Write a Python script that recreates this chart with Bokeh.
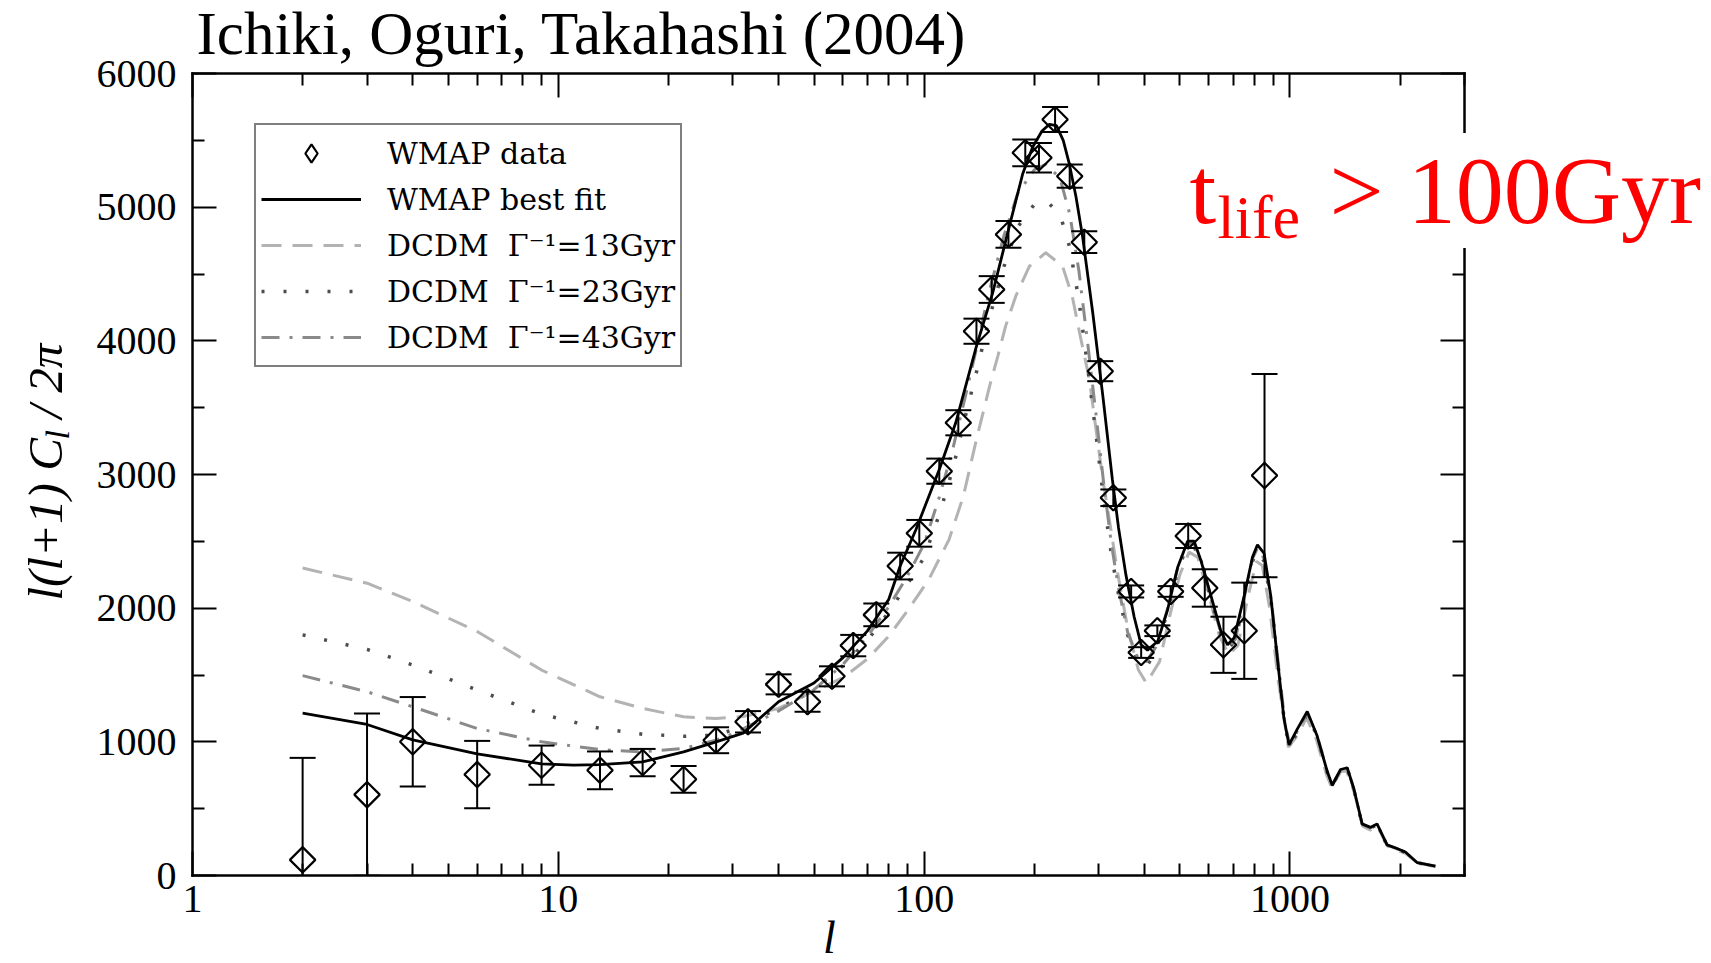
import math
from math import pi
from bokeh.plotting import figure
from bokeh.core.properties import value
from bokeh.models import (Range1d, LogAxis, LinearAxis, Legend, LegendItem, Text,
                          ColumnDataSource, FixedTicker, CustomJSTickFormatter)
from bokeh.embed import file_html
from bokeh.resources import INLINE

# ---------------- data ----------------
ell_data = [2, 3, 4, 6, 9, 13, 17, 22, 27, 33, 40, 48, 56, 64, 74, 86, 97, 110, 124, 139,
            153, 170, 189, 206, 228, 250, 274, 303, 329, 368, 392, 434, 472, 527, 585, 658, 750, 852]
cl_data = [117, 605, 1000, 755, 825, 787, 845, 720, 1012, 1150, 1430, 1300, 1490, 1720, 1950, 2315, 2560, 3025, 3387, 4072,
           4384, 4796, 5407, 5370, 5656, 5232, 4738, 3773, 2826, 2125, 1668, 1831, 2125, 2540, 2151, 1726, 1831, 2992]
cl_err = [763, 607, 335, 252, 147, 141, 102, 100, 97, 80, 75, 75, 75, 80, 85, 100, 100, 94, 94, 94,
          100, 100, 100, 110, 94, 87, 81, 75, 62, 45, 40, 40, 40, 90, 140, 210, 360, 760]

ell_fit = [2, 3, 4, 6, 9, 11, 13, 17, 22, 27, 32, 40, 50, 60, 70, 80, 86, 95, 110, 122,
           139, 154, 171, 186, 198, 210, 220, 230, 240, 249, 260, 271, 289, 308, 327, 340, 356, 375, 392, 408, 435,
           463, 493, 525, 547, 571, 608, 647, 675, 704, 750, 790, 815, 850, 886, 924, 963, 994, 1047, 1115, 1187,
           1264, 1305, 1375, 1434, 1495, 1575, 1660, 1730, 1843, 1962, 2068, 2225, 2497]
cl_fit = [1215, 1130, 1015, 910, 835, 825, 830, 850, 925, 1000, 1065, 1300, 1440, 1630, 1830, 2065, 2315, 2589, 3038, 3387,
          3960, 4360, 4858, 5250, 5450, 5570, 5620, 5610, 5500, 5332, 5080, 4783, 4210, 3586, 2963, 2600, 2251, 1936, 1726, 1686, 1752,
          1989, 2304, 2501, 2501, 2356, 2094, 1831, 1726, 1778, 2094, 2382, 2474, 2409, 2094, 1621, 1174, 977, 1095, 1227, 1043,
          780, 675, 793, 806, 649, 386, 360, 386, 229, 202, 176, 97, 71]

ell_13 = [2, 3, 4, 6, 9, 13, 17, 22, 27, 32, 40, 50, 60, 70, 80, 90, 103, 117, 128, 139,
          151, 159, 167, 178, 194, 215, 239, 254, 266, 283, 295, 308, 324, 338, 360, 385, 405, 440, 470, 500,
          530, 560, 600, 640, 680, 720, 770, 810, 840, 880, 930, 990, 1050, 1110, 1180, 1260, 1300, 1380, 1430, 1500,
          1580, 1660, 1730, 1850, 1960, 2070, 2230, 2500]
cl_13 = [2300, 2187, 2050, 1825, 1537, 1337, 1250, 1187, 1175, 1190, 1250, 1380, 1480, 1620, 1790, 1980, 2215, 2514, 2838, 3263,
         3661, 3886, 4110, 4334, 4558, 4659, 4558, 4334, 4060, 3711, 3337, 2963, 2589, 2265, 1850, 1540, 1440, 1600, 1950, 2250,
         2420, 2380, 2100, 1800, 1650, 1720, 2100, 2350, 2320, 2000, 1450, 960, 1050, 1180, 1020, 750, 660, 780, 780, 620,
         370, 340, 370, 220, 190, 165, 95, 65]

ell_23 = [2, 3, 4, 6, 9, 13, 17, 22, 27, 30, 40, 50, 60, 70, 80, 90, 100, 110, 120, 130,
          140, 150, 165, 180, 200, 215, 235, 250, 265, 280, 295, 310, 325, 340, 360, 385, 405, 430, 460, 490,
          520, 545, 575, 610, 650, 680, 710, 750, 790, 815, 850, 890, 930, 970, 1000, 1050, 1115, 1190, 1265, 1305,
          1375, 1435, 1495, 1575, 1660, 1730, 1843, 1962, 2068, 2225, 2500]
cl_23 = [1800, 1692, 1575, 1387, 1207, 1100, 1057, 1042, 1050, 1090, 1250, 1390, 1570, 1760, 1970, 2180, 2380, 2700, 3050, 3450,
         3800, 4150, 4550, 4850, 5020, 5050, 4950, 4700, 4300, 3800, 3300, 2800, 2400, 2100, 1800, 1590, 1560, 1680, 1950, 2250,
         2450, 2470, 2330, 2050, 1790, 1700, 1760, 2070, 2350, 2430, 2350, 2030, 1550, 1100, 970, 1080, 1210, 1030, 770, 670,
         790, 800, 640, 380, 355, 380, 225, 198, 172, 95, 70]

ell_43 = ell_23
cl_43 = [1495, 1375, 1262, 1100, 1000, 942, 925, 950, 1012, 1060, 1230, 1390, 1580, 1790, 2010, 2240, 2480, 2830, 3200, 3600,
         3980, 4350, 4780, 5100, 5280, 5320, 5220, 4950, 4520, 3980, 3450, 2920, 2480, 2150, 1820, 1620, 1600, 1710, 1970, 2270,
         2470, 2490, 2340, 2060, 1800, 1710, 1770, 2080, 2370, 2450, 2370, 2050, 1580, 1130, 975, 1085, 1215, 1035, 775, 672,
         792, 803, 645, 383, 357, 383, 227, 200, 174, 96, 70]

x_major = [1, 10, 100, 1000]
x_tick_labels = ["1", "10", "100", "1000"]
y_major = [0, 1000, 2000, 3000, 4000, 5000, 6000]
y_tick_labels = ["0", "1000", "2000", "3000", "4000", "5000", "6000"]
x_minor = [m * 10 ** e for e in range(4) for m in range(2, 10) if m * 10 ** e <= 3000]
y_minor = [v + 500 for v in y_major[:-1]]

legend_labels = ["WMAP data", "WMAP best fit", "DCDM  \u0393\u207b\u00b9=13Gyr",
                 "DCDM  \u0393\u207b\u00b9=23Gyr", "DCDM  \u0393\u207b\u00b9=43Gyr"]

# ---------------- layout ----------------
W, H = 1711, 963
FL, FR, FT, FB = 192, 1464, 73, 875
XMIN, XMAX, YMIN, YMAX = 1, 3000, 0, 6000

p = figure(width=W, height=H, x_axis_type="log",
           x_range=Range1d(XMIN, XMAX), y_range=Range1d(YMIN, YMAX),
           output_backend="svg", toolbar_location=None,
           min_border_left=FL, min_border_right=W - FR,
           min_border_top=FT, min_border_bottom=H - FB,
           background_fill_color="white", border_fill_color="white")
p.outline_line_color = None
p.grid.visible = False

xt = FixedTicker(ticks=x_major, minor_ticks=x_minor)
yt = FixedTicker(ticks=y_major, minor_ticks=y_minor)

def style_axis(ax):
    ax.axis_line_color = "black"
    ax.axis_line_width = 2.5
    ax.axis_line_cap = "square"
    ax.major_tick_in = 24
    ax.major_tick_out = 0
    ax.minor_tick_in = 12
    ax.minor_tick_out = 0
    ax.major_tick_line_width = 2
    ax.minor_tick_line_width = 2
    ax.major_tick_line_color = "black"
    ax.minor_tick_line_color = "black"
    ax.major_label_text_color = "black"

FMT = "const i = vals.indexOf(Math.round(tick)); return i >= 0 ? labs[i] : '';"

xa = p.xaxis[0]
xa.ticker = xt
xa.formatter = CustomJSTickFormatter(args=dict(vals=x_major, labs=x_tick_labels), code=FMT)
xa.major_label_text_font = "Liberation Serif"
xa.major_label_text_font_size = "40px"
xa.major_label_standoff = 10
style_axis(xa)

ya = p.yaxis[0]
ya.ticker = yt
ya.formatter = CustomJSTickFormatter(args=dict(vals=y_major, labs=y_tick_labels), code=FMT)
ya.major_label_text_font = "Liberation Serif"
ya.major_label_text_font_size = "40px"
ya.major_label_standoff = 16
style_axis(ya)

top = LogAxis(ticker=xt, formatter=CustomJSTickFormatter(code="return '';"))
style_axis(top)
p.add_layout(top, "above")
right = LinearAxis(ticker=yt, formatter=CustomJSTickFormatter(code="return '';"))
style_axis(right)
p.add_layout(right, "right")

# ---------------- curves ----------------
r13 = p.line(ell_13, cl_13, line_color="#b3b3b3", line_width=3, line_dash="20 11")
r23 = p.line(ell_23, cl_23, line_color="#4d4d4d", line_width=3.5, line_dash="3 19")
r43 = p.line(ell_43, cl_43, line_color="#8a8a8a", line_width=3, line_dash="18 10 3 10")
rfit = p.line(ell_fit, cl_fit, line_color="black", line_width=2.8)

# ---------------- data with error bars ----------------
upper = [c + e for c, e in zip(cl_data, cl_err)]
lower = [c - e for c, e in zip(cl_data, cl_err)]
src = ColumnDataSource(dict(l=ell_data, cl=cl_data, up=upper, lo=lower))
p.segment(x0="l", y0="lo", x1="l", y1="up", source=src, line_color="black", line_width=2)
p.scatter(x="l", y="up", source=src, marker="dash", size=26, line_color="black", line_width=2)
p.scatter(x="l", y="lo", source=src, marker="dash", size=26, line_color="black", line_width=2)
p.scatter(x="l", y="cl", source=src, marker="square", angle=pi / 4, size=18,
          fill_color="white", fill_alpha=0.0, line_color="black", line_width=2.2)
# hidden diamond renderer of the same data, used only for the legend symbol
rdat = p.scatter(x="l", y="cl", source=src, marker="diamond", size=26, fill_alpha=0.0,
                 line_color="black", line_width=2.2, visible=False)

# ---------------- legend ----------------
LEG_X, LEG_TOP = 62, 367
legend = Legend(items=[LegendItem(label=legend_labels[0], renderers=[rdat]),
                       LegendItem(label=legend_labels[1], renderers=[rfit]),
                       LegendItem(label=legend_labels[2], renderers=[r13]),
                       LegendItem(label=legend_labels[3], renderers=[r23]),
                       LegendItem(label=legend_labels[4], renderers=[r43])],
                location=(LEG_X, FB - LEG_TOP))
legend.click_policy = "none"
legend.border_line_color = "black"
legend.border_line_width = 2
legend.background_fill_color = "white"
legend.background_fill_alpha = 1.0
legend.label_text_font = "DejaVu Serif"
legend.label_text_font_size = "30px"
legend.label_text_color = "black"
legend.glyph_width = 100
legend.glyph_height = 46
legend.label_height = 46
legend.label_standoff = 26
legend.spacing = 0
legend.padding = 5
legend.margin = 0
p.add_layout(legend)

# ---------------- texts (drawn above the frame, unclipped) ----------------
LOGX = math.log10(XMAX / XMIN)

def to_data(X, Y):
    xd = XMIN * 10 ** ((X - FL) / (FR - FL) * LOGX)
    yd = YMIN + (FB - Y) / (FB - FT) * (YMAX - YMIN)
    return xd, yd

HAS_BG = "background_fill_color" in Text.properties()

def add_text(text, X, Y, size, color="black", font="Liberation Serif", style="normal",
             align="left", angle=0.0, bg=False):
    xd, yd = to_data(X, Y)
    kw = {}
    if bg and HAS_BG:
        kw = dict(background_fill_color="white", padding=4)
    r = p.text(x=[xd], y=[yd], text=[text], text_font=value(font),
               text_font_size=value(f"{size}px"), text_color=color,
               text_font_style=style, text_align=align, text_baseline="alphabetic",
               angle=angle, **kw)
    r.level = "overlay"
    return r

add_text("Ichiki, Oguri, Takahashi (2004)", 196, 33, 61)

add_text("t", 1189, 190, 96, color="red")
add_text("life", 1217, 216, 62, color="red")
add_text("> 100Gyr", 1325, 190, 96, color="red", bg=True)

add_text("l", 829, 937, 46, style="italic", align="center")

add_text("l(l+1) C", 45, 600, 49, style="italic", angle=pi / 2)
add_text("l", 57, 439, 34, style="italic", angle=pi / 2)
add_text("/ 2\u03c0", 45, 418, 49, style="italic", angle=pi / 2)

open("out.html", "w").write(file_html(p, INLINE))
